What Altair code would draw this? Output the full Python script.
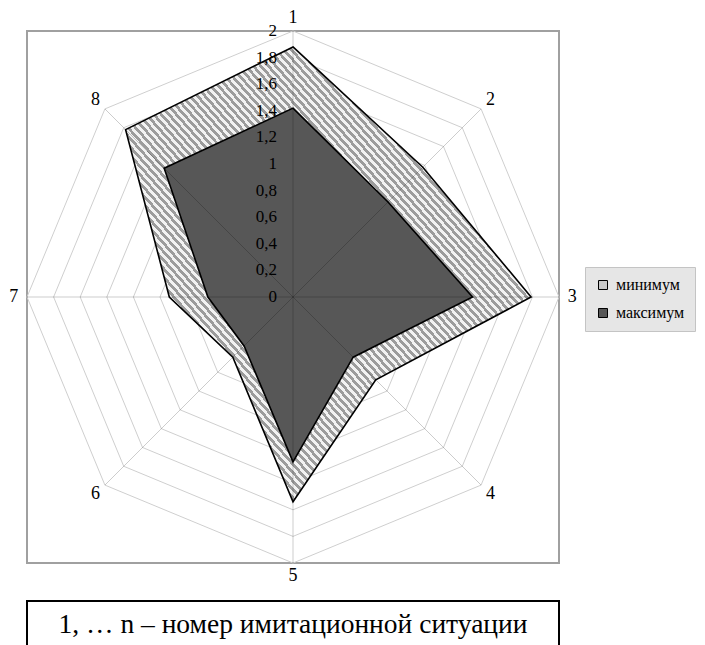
import altair as alt
import pandas as pd

# ---------------- data ----------------
axis_names = ["1", "2", "3", "4", "5", "6", "7", "8"]
series_names = ["минимум", "максимум"]
minimum = [1.88, 1.38, 1.79, 0.88, 1.54, 0.64, 0.93, 1.78]
maximum = [1.42, 1.01, 1.35, 0.64, 1.24, 0.52, 0.64, 1.37]
tick_values = [0.0, 0.2, 0.4, 0.6, 0.8, 1.0, 1.2, 1.4, 1.6, 1.8, 2.0]
tick_labels = ["0", "0,2", "0,4", "0,6", "0,8", "1", "1,2", "1,4", "1,6", "1,8", "2"]
caption = "1, … n – номер имитационной ситуации"

R_MAX = 2.0
N = len(axis_names)

# ---------------- tables ----------------
poly_rows = []
for s, vals in zip(series_names, [minimum, maximum]):
    for i, (a, v) in enumerate(zip(axis_names, vals)):
        poly_rows.append({"series": s, "idx": i, "axis": a, "value": v})
poly_df = pd.DataFrame(poly_rows)

ring_rows = []
for t in tick_values[1:]:
    for i in range(N):
        ring_rows.append({"ring": t, "idx": i, "value": t})
ring_df = pd.DataFrame(ring_rows)

spoke_df = pd.DataFrame({"idx": list(range(N)), "axis": axis_names})
tick_df = pd.DataFrame({"value": tick_values, "label": tick_labels})
cap_df = pd.DataFrame({"text": [caption]})

W = 532
H = 532
FONT = "Liberation Serif"

xs = alt.Scale(domain=[-R_MAX, R_MAX], nice=False, zero=False)
ys = alt.Scale(domain=[-R_MAX, R_MAX], nice=False, zero=False)

angle = "datum.idx * PI / 4"


def polar(chart, rfield="datum.value"):
    return chart.transform_calculate(
        px=f"{rfield} * sin({angle})",
        py=f"{rfield} * cos({angle})",
    )


# hatch pattern emulated with a hard-stop linear gradient
light = "#f2f2f2"
dark = "#9c9c9c"
n_periods = 108
stops = []
for i in range(n_periods):
    a = round(i / n_periods, 6)
    b = round((i + 0.5) / n_periods, 6)
    c = round((i + 1) / n_periods, 6)
    stops += [
        alt.GradientStop(offset=a, color=light),
        alt.GradientStop(offset=b, color=light),
        alt.GradientStop(offset=b, color=dark),
        alt.GradientStop(offset=c, color=dark),
    ]
hatch = alt.LinearGradient(gradient="linear", stops=stops, x1=0, y1=1, x2=1, y2=0)

# rings
rings = polar(alt.Chart(ring_df)).mark_line(
    interpolate="linear-closed", stroke="#cfcfcf", strokeWidth=1
).encode(
    x=alt.X("px:Q", scale=xs, axis=None),
    y=alt.Y("py:Q", scale=ys, axis=None),
    detail="ring:N",
    order="idx:Q",
)

# polygons
poly_min = polar(alt.Chart(poly_df).transform_filter(alt.datum.series == "минимум")).mark_line(
    interpolate="linear-closed", fill=hatch, stroke="#000000", strokeWidth=1.6
).encode(
    x=alt.X("px:Q", scale=xs, axis=None),
    y=alt.Y("py:Q", scale=ys, axis=None),
    order="idx:Q",
)

poly_max = polar(alt.Chart(poly_df).transform_filter(alt.datum.series == "максимум")).mark_line(
    interpolate="linear-closed", fill="#575757", stroke="#000000", strokeWidth=1.6
).encode(
    x=alt.X("px:Q", scale=xs, axis=None),
    y=alt.Y("py:Q", scale=ys, axis=None),
    order="idx:Q",
)

# spokes
spokes = alt.Chart(spoke_df).transform_calculate(
    x0="0", y0="0",
    x1=f"{R_MAX} * sin({angle})",
    y1=f"{R_MAX} * cos({angle})",
).mark_rule(stroke="#000000", strokeOpacity=0.2, strokeWidth=1).encode(
    x=alt.X("x0:Q", scale=xs, axis=None),
    y=alt.Y("y0:Q", scale=ys, axis=None),
    x2="x1:Q",
    y2="y1:Q",
)

# category labels
cat_labels = alt.Chart(spoke_df).transform_calculate(
    lx=f"2.1 * sin({angle})",
    ly=f"2.1 * cos({angle})",
).mark_text(font=FONT, fontSize=18, color="#000000", align="center", baseline="middle").encode(
    x=alt.X("lx:Q", scale=xs, axis=None),
    y=alt.Y("ly:Q", scale=ys, axis=None),
    text="axis:N",
)

# value labels
val_labels = alt.Chart(tick_df).transform_calculate(zero="0").mark_text(
    font=FONT, fontSize=17, color="#000000", align="right", baseline="middle", dx=-16
).encode(
    x=alt.X("zero:Q", scale=xs, axis=None),
    y=alt.Y("value:Q", scale=ys, axis=None),
    text="label:N",
)

# legend (invisible marks, real legend)
legend_layer = polar(alt.Chart(poly_df)).mark_square(opacity=0).encode(
    x=alt.X("px:Q", scale=xs, axis=None),
    y=alt.Y("py:Q", scale=ys, axis=None),
    color=alt.Color(
        "series:N",
        scale=alt.Scale(domain=series_names, range=["#c8c8c8", "#575757"]),
        legend=alt.Legend(
            title=None,
            orient="none",
            legendX=558,
            legendY=236,
            direction="vertical",
            symbolType="square",
            symbolSize=81,
            symbolOpacity=1,
            symbolStrokeColor="#000000",
            symbolStrokeWidth=1,
            labelFont=FONT,
            labelFontSize=16,
            labelColor="#000000",
            labelOffset=5,
            rowPadding=12,
            padding=10,
            fillColor="#e6e6e6",
            strokeColor="#c4c4c4",
        ),
    ),
)

# caption box
cap_box = alt.Chart(cap_df).mark_rect(fill="#ffffff", stroke="#000000", strokeWidth=2).encode(
    x=alt.value(0), x2=alt.value(W), y=alt.value(570), y2=alt.value(650)
)
cap_text = alt.Chart(cap_df).mark_text(
    font=FONT, fontSize=27.5, color="#000000", align="center", baseline="alphabetic"
).encode(x=alt.value(W / 2), y=alt.value(602), text="text:N")

chart = alt.layer(
    rings, poly_min, poly_max, spokes, val_labels, cat_labels, legend_layer, cap_box, cap_text
).properties(
    width=W,
    height=H,
    autosize=alt.AutoSizeParams(type="none"),
    padding={"left": 27, "top": 31, "right": 705 - 27 - W, "bottom": 645 - 31 - H},
    background="#ffffff",
).configure_view(stroke="#a0a0a0", strokeWidth=2)

chart.save("out.html", embed_options={"renderer": "svg", "actions": False})
